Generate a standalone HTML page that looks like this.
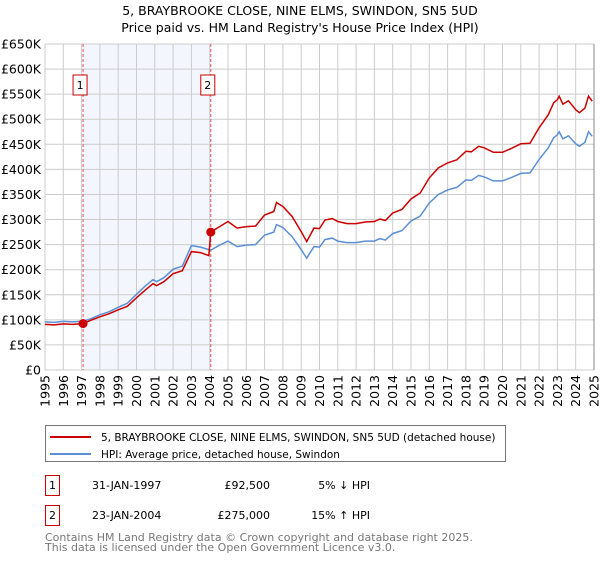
<!DOCTYPE html>
<html><head><meta charset="utf-8"><style>
body{margin:0;background:#fff;font-family:"DejaVu Sans","Liberation Sans",sans-serif;}
</style></head><body>
<svg id="c" width="600" height="560" xmlns="http://www.w3.org/2000/svg" style="font-family:'DejaVu Sans','Liberation Sans',sans-serif">
<text x="300" y="15" text-anchor="middle" font-size="12.5" fill="#000">5, BRAYBROOKE CLOSE, NINE ELMS, SWINDON, SN5 5UD</text>
<text x="300" y="32" text-anchor="middle" font-size="12.5" fill="#000">Price paid vs. HM Land Registry's House Price Index (HPI)</text>
<g id="plot"></g>
<g>
<rect x="45.5" y="425.5" width="460" height="36" fill="#fff" stroke="#777"/>
<line x1="50" y1="437" x2="91" y2="437" stroke="#cc0000" stroke-width="2"/>
<text x="101" y="441" font-size="10.5">5, BRAYBROOKE CLOSE, NINE ELMS, SWINDON, SN5 5UD (detached house)</text>
<line x1="50" y1="454" x2="91" y2="454" stroke="#5b8fd4" stroke-width="2"/>
<text x="101" y="458" font-size="10.5">HPI: Average price, detached house, Swindon</text>
</g>
<g font-size="11">
<rect x="45.5" y="475.5" width="14" height="20" fill="#fff" stroke="#cc0000"/>
<text x="52.5" y="489" text-anchor="middle">1</text>
<text x="92" y="489">31-JAN-1997</text>
<text x="270" y="489" text-anchor="end">£92,500</text>
<text x="370" y="489" text-anchor="end">5% ↓ HPI</text>
<rect x="45.5" y="505.5" width="14" height="20" fill="#fff" stroke="#cc0000"/>
<text x="52.5" y="519" text-anchor="middle">2</text>
<text x="92" y="519">23-JAN-2004</text>
<text x="270" y="519" text-anchor="end">£275,000</text>
<text x="370" y="519" text-anchor="end">15% ↑ HPI</text>
</g>
<text x="45" y="541" font-size="11" fill="#777">Contains HM Land Registry data © Crown copyright and database right 2025.</text>
<text x="45" y="551" font-size="11" fill="#777">This data is licensed under the Open Government Licence v3.0.</text>
</svg>
<script>
const years=[1995.0,1995.5,1996.0,1996.5,1997.08,1997.5,1998.0,1998.5,1999.0,1999.5,2000.0,2000.5,2000.9,2001.1,2001.5,2002.0,2002.5,2003.0,2003.5,2003.95,2004.06,2004.5,2005.0,2005.5,2006.0,2006.5,2007.0,2007.5,2007.65,2008.0,2008.5,2009.0,2009.3,2009.7,2010.0,2010.3,2010.7,2011.0,2011.5,2012.0,2012.5,2013.0,2013.3,2013.6,2014.0,2014.5,2015.0,2015.5,2016.0,2016.5,2017.0,2017.5,2018.0,2018.3,2018.7,2019.0,2019.5,2020.0,2020.5,2021.0,2021.5,2022.0,2022.5,2022.8,2023.0,2023.1,2023.3,2023.6,2024.0,2024.2,2024.5,2024.7,2024.9];
const priceSeries=[91,90,92,91,92.5,99,106,112,120,127,144,160,172,168,176,192,198,236,234,228,275,285,296,283,286,287,309,316,334,326,306,276,256,283,282,299,302,296,292,292,295,296,301,298,313,320,341,353,383,403,413,419,436,435,446,443,434,434,442,451,452,483,509,533,539,546,530,537,519,513,522,546,536];
const hpiSeries=[96,95,97,96,97.4,102,110,116,125,133,151,168,180,176,184,201,207,248,245,240,239,248,257,246,249,250,269,275,290,284,266,240,223,246,245,260,263,257,254,254,257,257,262,259,272,278,297,307,333,350,359,364,379,378,388,385,377,377,384,392,393,420,443,463,469,475,461,467,451,446,454,475,466];
const yTicks=[0,50,100,150,200,250,300,350,400,450,500,550,600,650];
const yTickLabels=["£0","£50K","£100K","£150K","£200K","£250K","£300K","£350K","£400K","£450K","£500K","£550K","£600K","£650K"];
const xTicks=[1995,1996,1997,1998,1999,2000,2001,2002,2003,2004,2005,2006,2007,2008,2009,2010,2011,2012,2013,2014,2015,2016,2017,2018,2019,2020,2021,2022,2023,2024,2025];
const saleYears=[1997.08,2004.06];
const salePrices=[92.5,275];
const saleLabels=["1","2"];

const L=45,R=594,T=44,B=370;
const X=v=>L+(v-1995)/30*(R-L);
const Y=v=>B-v/650*(B-T);
const NS="http://www.w3.org/2000/svg";
const g=document.getElementById('plot');
function mk(t,a){const e=document.createElementNS(NS,t);for(const k in a)e.setAttribute(k,a[k]);g.appendChild(e);return e;}
let e=mk('rect',{x:X(saleYears[0]),y:T,width:X(saleYears[1])-X(saleYears[0]),height:B-T,fill:'#eef2fc',opacity:0.7});


yTicks.forEach((v,i)=>{
  let l=mk('line',{x1:L,x2:R,y1:Y(v),y2:Y(v),stroke:'#ccc','stroke-width':1});
  
  
  let t=mk('text',{x:L-4,y:Y(v)+4.5,'text-anchor':'end','font-size':12.5});
  t.textContent=yTickLabels[i];
  
  
});
xTicks.forEach(v=>{
  let l=mk('line',{x1:X(v),x2:X(v),y1:T,y2:B,stroke:'#ccc','stroke-width':1});
  
  
  let t=mk('text',{x:0,y:0,'text-anchor':'end','font-size':12.5,transform:`translate(${X(v)+4.5},${B+5}) rotate(-90)`});
  t.textContent=v;
  
  
});
saleYears.forEach((v,i)=>{
  let l=mk('line',{x1:X(v),x2:X(v),y1:T,y2:B,stroke:'#e05555','stroke-width':1,'stroke-dasharray':'3,2'});
  
  
  let r=mk('rect',{x:X(v)-10,y:75,width:14,height:20,fill:'#fff',stroke:'#cc0000'});
  
  
  let t=mk('text',{x:X(v)-3,y:89,'text-anchor':'middle','font-size':11});
  t.textContent=saleLabels[i];
  
  
});
let ax=mk('line',{x1:R,x2:R,y1:T,y2:B,stroke:'#888'});


const pts=s=>years.map((y,i)=>X(y).toFixed(1)+','+Y(s[i]).toFixed(1)).join(' ');
let hp=mk('polyline',{points:pts(hpiSeries),fill:'none',stroke:'#5b8fd4','stroke-width':1.5});


let pp=mk('polyline',{points:pts(priceSeries),fill:'none',stroke:'#cc0000','stroke-width':1.5});


saleYears.forEach((v,i)=>{
  let c=mk('circle',{cx:X(v),cy:Y(salePrices[i]),r:4.5,fill:'#cc0000'});
  
  
});
</script>
</body></html>
